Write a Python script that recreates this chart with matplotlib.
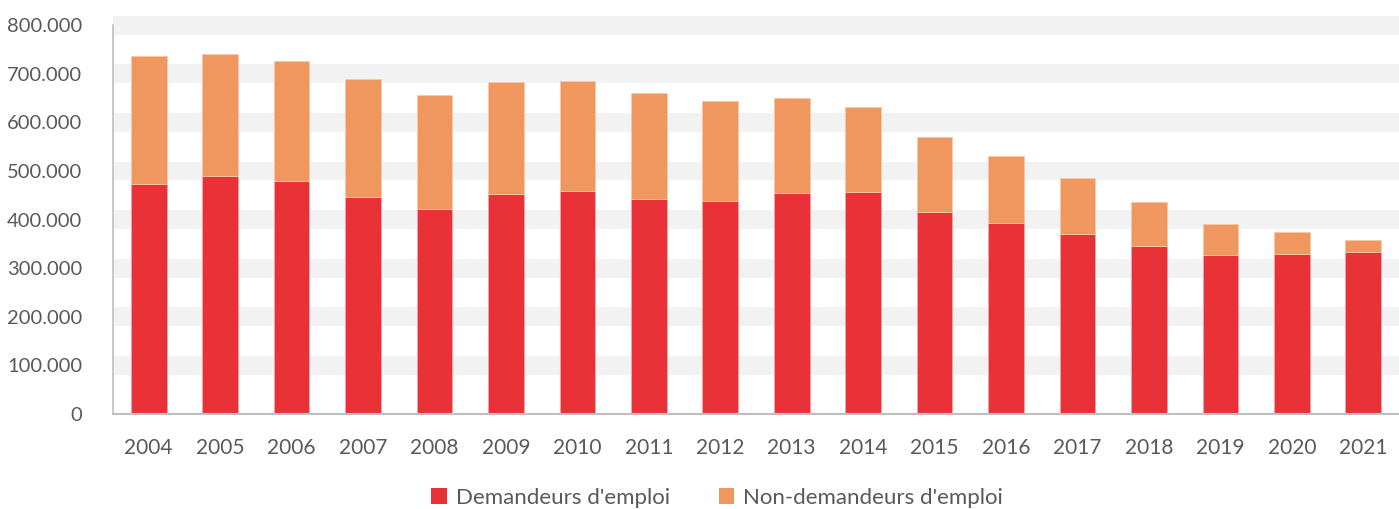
import matplotlib
matplotlib.use("Agg")
import matplotlib.pyplot as plt
from matplotlib.ticker import FuncFormatter
import numpy as np

years = ["2004", "2005", "2006", "2007", "2008", "2009", "2010", "2011", "2012",
         "2013", "2014", "2015", "2016", "2017", "2018", "2019", "2020", "2021"]
# demandeurs d'emploi (bottom part)
demandeurs = [474000, 490000, 479000, 447000, 422000, 453000, 459000, 443000, 439000,
              455000, 457000, 416000, 393000, 370000, 346000, 328000, 329000, 333000]
# total height of each stacked bar
totals = [737000, 741000, 726000, 690000, 657000, 684000, 685000, 660000, 644000,
          650000, 632000, 569000, 531000, 486000, 437000, 390000, 374000, 359000]
non_demandeurs = [t - d for t, d in zip(totals, demandeurs)]
y_ticks = [0, 100000, 200000, 300000, 400000, 500000, 600000, 700000, 800000]

red = "#e83238"
orange = "#f0975f"
grey_txt = "#595959"

plt.rcParams['font.family'] = ['Lato', 'DejaVu Sans']

fig = plt.figure(figsize=(13.99, 5.09), dpi=100)
ax = fig.add_axes([113 / 1399, 95 / 509, 1 - 113 / 1399, 398 / 509])

x = np.arange(len(years))

# wide light grey bands on every gridline
for v in y_ticks[1:]:
    ax.axhspan(v - 19500, v + 19500, color="#f2f2f2", zorder=0, lw=0)

ax.bar(x, demandeurs, width=0.5, color=red, edgecolor="#f4a3a3", linewidth=0.6,
       label="Demandeurs d'emploi", zorder=2)
ax.bar(x, non_demandeurs, width=0.5, bottom=demandeurs, color=orange,
       edgecolor="#f8c9a8", linewidth=0.6, label="Non-demandeurs d'emploi", zorder=2)

ax.set_xlim(-0.5, len(years) - 0.5)
ax.set_ylim(0, 819000)
ax.set_xticks(x)
ax.set_xticklabels(years)
ax.set_yticks(y_ticks)
ax.yaxis.set_major_formatter(FuncFormatter(lambda v, p: f"{int(v):,}".replace(",", ".")))

ax.tick_params(axis="both", length=0, colors=grey_txt)
ax.tick_params(axis="x", labelsize=15, pad=17)
ax.tick_params(axis="y", labelsize=14.5, pad=22)

for s in ["top", "right"]:
    ax.spines[s].set_visible(False)
ax.spines["left"].set_color("#bfbfbf")
ax.spines["left"].set_linewidth(1.2)
ax.spines["left"].set_bounds(0, 800000)
ax.spines["bottom"].set_color("#bfbfbf")
ax.spines["bottom"].set_linewidth(1.5)

leg = fig.legend(loc="center", bbox_to_anchor=(717 / 1399, 11 / 509), ncol=2,
                 frameon=False, fontsize=16, handlelength=0.7, handleheight=0.7,
                 handletextpad=0.4, columnspacing=2.2, borderaxespad=0)
for t in leg.get_texts():
    t.set_color(grey_txt)
for h in leg.legend_handles:
    h.set_linewidth(0)

fig.savefig("out.png", dpi=100)
